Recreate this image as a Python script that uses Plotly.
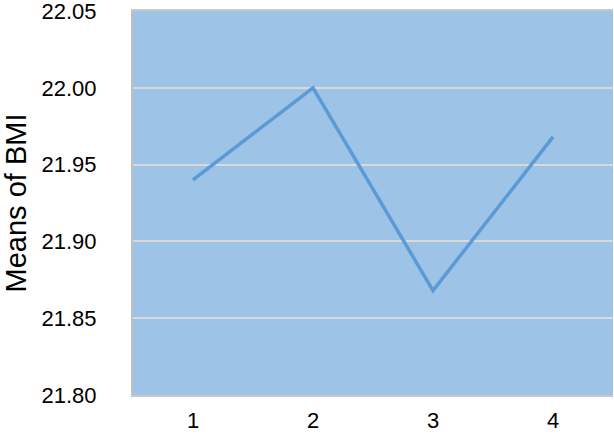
import plotly.graph_objects as go

groups = ["1", "2", "3", "4"]
bmi_means = [21.940, 22.000, 21.868, 21.968]
y_ticks = [21.80, 21.85, 21.90, 21.95, 22.00, 22.05]

fig = go.Figure()

fig.add_trace(
    go.Scatter(
        x=groups,
        y=bmi_means,
        mode="lines",
        line=dict(color="#5B9BD5", width=3.5),
        showlegend=False
    )
)

fig.update_layout(
    width=614,
    height=442,
    margin=dict(l=133, r=1, t=11, b=47),
    paper_bgcolor="white",
    plot_bgcolor="#9DC3E6",
    font=dict(family="Liberation Sans", size=22, color="black"),
)

fig.update_xaxes(
    type="category",
    range=[-0.5, 3.5],
    showgrid=False,
    showline=True,
    mirror=True,
    linecolor="#C8C8C8",
    linewidth=2,
    ticks="",
    tickfont=dict(size=22),
    ticklabelstandoff=5,
    automargin=False,
)

fig.update_yaxes(
    range=[21.80, 22.05],
    tickvals=y_ticks,
    ticktext=["%.2f" % v for v in y_ticks],
    showgrid=True,
    gridcolor="#D9D9D9",
    gridwidth=2,
    zeroline=False,
    showline=True,
    linecolor="#BFBFBF",
    linewidth=2,
    ticks="",
    tickfont=dict(size=22),
    ticklabelstandoff=30,
    ticklabeloverflow="allow",
    automargin=False,
    title=dict(text="Means of BMI", font=dict(size=29), standoff=19),
)

# page has a default 8px body margin, drop it so the figure sits at 0,0
fig.write_html(
    "out.html",
    config={"displayModeBar": False},
    post_script="document.body.style.margin='0';",
)
